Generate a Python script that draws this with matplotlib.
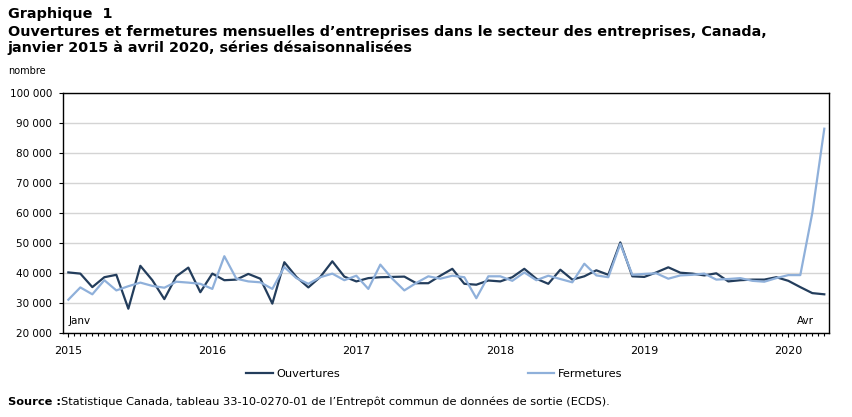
import numpy as np
import matplotlib.pyplot as plt
from matplotlib.ticker import MultipleLocator, FuncFormatter

plt.rcParams['font.family'] = ['DejaVu Sans']

# monthly series, Jan 2015 to Apr 2020
ouvertures = [40200, 39800, 35300, 38600, 39400, 28100, 42400, 37600, 31300, 38900, 41800, 33600,
              39800, 37600, 37800, 39700, 38100, 29800, 43600, 38700, 35200, 38700, 43900, 38800,
              37200, 38300, 38600, 38700, 38800, 36600, 36600, 39100, 41400, 36400, 36100, 37500,
              37200, 38600, 41400, 38100, 36400, 41100, 37800, 38900, 40900, 39400, 50200, 38900,
              38700, 40200, 41900, 40100, 39800, 39200, 39900, 37200, 37600, 37800, 37800, 38600,
              37400, 35300, 33300, 32900]
fermetures = [31100, 35200, 32900, 37600, 34200, 35600, 36800, 35700, 35100, 37100, 36800, 36400,
              34700, 45600, 38100, 37200, 36900, 34700, 42000, 38300, 36400, 38600, 39800, 37600,
              39100, 34700, 42800, 38100, 34200, 36700, 38900, 38100, 39100, 38600, 31600, 38900,
              38900, 37400, 40200, 37600, 39100, 38000, 36900, 43100, 39200, 38600, 49700, 39400,
              39700, 39900, 38100, 39200, 39400, 39800, 37800, 38000, 38300, 37400, 37100, 38300,
              39300, 39300, 60000, 88100]
years = ['2015', '2016', '2017', '2018', '2019', '2020']

dark = '#233d5c'
light = '#8fb0da'
narrow = ['Liberation Sans Narrow', 'DejaVu Sans']

fig = plt.figure(figsize=(8.52, 4.17), dpi=100)
ax = fig.add_axes([0.0743, 0.2014, 0.8991, 0.5756])

x = np.arange(len(ouvertures))
ax.plot(x, ouvertures, color=dark, lw=1.6, label='Ouvertures')
ax.plot(x, fermetures, color=light, lw=1.6, label='Fermetures')

ax.set_xlim(-0.42, 63.42)
ax.set_ylim(20000, 100000)
ax.yaxis.set_major_locator(MultipleLocator(10000))
ax.yaxis.set_major_formatter(FuncFormatter(lambda v, p: f'{int(v):,}'.replace(',', ' ')))
ax.grid(axis='y', color='#d4d4d4', lw=1)
ax.set_axisbelow(True)

ax.set_xticks(np.arange(0, 64, 12))
ax.set_xticklabels(years, family=narrow)
ax.xaxis.set_minor_locator(MultipleLocator(0.5))
ax.tick_params(axis='x', which='major', length=3, width=0.8, labelsize=8, pad=6)
ax.tick_params(axis='x', which='minor', length=2, width=0.8)
ax.tick_params(axis='y', length=3, width=0.8, labelsize=7.5, pad=5)
for s in ax.spines.values():
    s.set_color('black')
    s.set_linewidth(1)

ax.text(0, 22500, 'Janv', fontsize=7.5, ha='left', va='bottom')
ax.text(61.4, 22500, 'Avr', fontsize=7.5, ha='center', va='bottom')

fig.text(0.009, 0.983, 'Graphique  1', fontsize=10.4, fontweight='bold', va='top')
fig.text(0.009, 0.94, "Ouvertures et fermetures mensuelles d\u2019entreprises dans le secteur des entreprises, Canada,\n"
         "janvier 2015 \u00e0 avril 2020, s\u00e9ries d\u00e9saisonnalis\u00e9es",
         fontsize=10.4, fontweight='bold', va='top', linespacing=1.15)
fig.text(0.01, 0.83, 'nombre', fontsize=7, va='center')

handles, labels = ax.get_legend_handles_labels()
fig.legend([handles[0]], [labels[0]], loc='center', bbox_to_anchor=(0.344, 0.103), frameon=False,
           prop={'family': narrow, 'size': 8.2}, handlelength=2.3, handletextpad=0.3)
fig.legend([handles[1]], [labels[1]], loc='center', bbox_to_anchor=(0.675, 0.103), frameon=False,
           prop={'family': narrow, 'size': 8.2}, handlelength=2.3, handletextpad=0.3)

fig.text(0.009, 0.036, 'Source :', fontsize=8.2, fontweight='bold', family=narrow, va='center')
fig.text(0.072, 0.036, "Statistique Canada, tableau 33-10-0270-01 de l\u2019Entrep\u00f4t commun de donn\u00e9es de sortie (ECDS).",
         fontsize=8.2, family=narrow, va='center')

fig.savefig('out.png', dpi=100)
